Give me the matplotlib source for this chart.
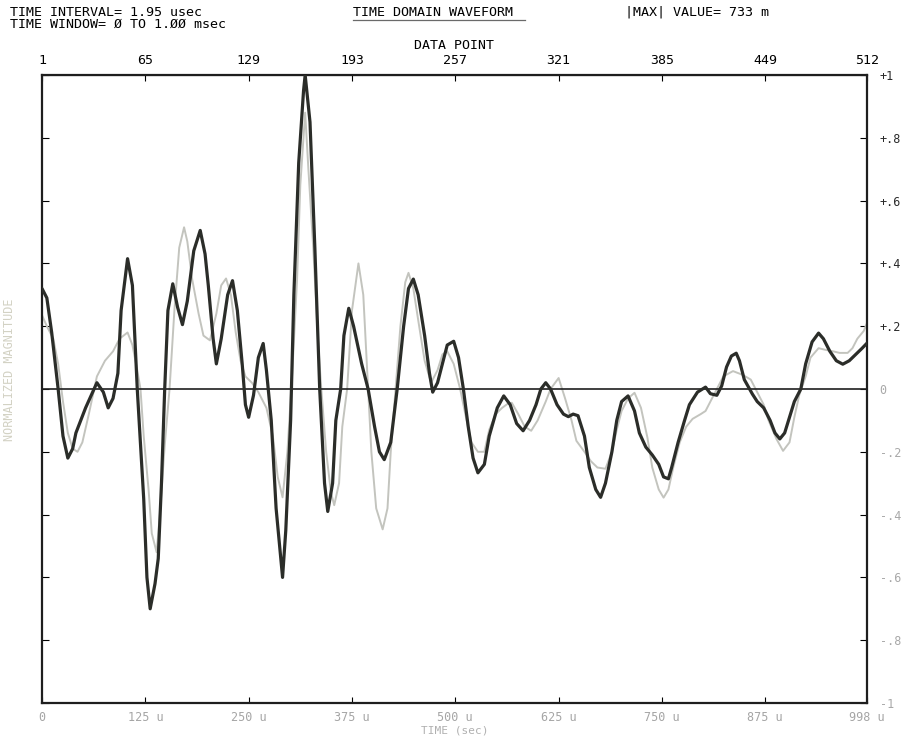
import matplotlib.pyplot as plt

# waveform: data point index (1..512) and normalized magnitude
black_idx = [1, 4, 7, 11, 14, 17, 20, 22, 28, 35,
             39, 42, 45, 48, 50, 54, 57, 60, 64, 66,
             68, 71, 73, 75, 77, 79, 82, 85, 88, 91,
             95, 99, 102, 104, 107, 109, 112, 116, 119, 122,
             125, 127, 129, 132, 135, 138, 140, 143, 146, 150,
             152, 155, 157, 160, 163, 164, 167, 170, 173, 176,
             178, 181, 183, 186, 188, 191, 194, 199, 203, 207,
             210, 213, 217, 221, 225, 228, 231, 234, 238, 241,
             243, 246, 249, 252, 256, 259, 262, 265, 268, 271,
             275, 278, 283, 287, 291, 295, 299, 303, 307, 310,
             313, 316, 320, 324, 327, 330, 333, 337, 340, 344,
             347, 350, 354, 357, 360, 364, 368, 371, 375, 379,
             383, 386, 389, 391, 395, 399, 402, 407, 412, 415,
             419, 422, 425, 428, 431, 433, 436, 441, 444, 448,
             452, 455, 458, 461, 464, 467, 471, 474, 478, 482,
             485, 489, 493, 497, 501, 505, 509, 512]
black_val = [0.32, 0.29, 0.18, 0.0, -0.15, -0.22, -0.19, -0.14, -0.06, 0.02,
             -0.01, -0.06, -0.03, 0.05, 0.25, 0.415, 0.33, 0.0, -0.35, -0.6,
             -0.70, -0.62, -0.54, -0.3, 0.0, 0.25, 0.335, 0.26, 0.205, 0.28,
             0.44, 0.505, 0.43, 0.33, 0.16, 0.08, 0.16, 0.3, 0.345, 0.25,
             0.08, -0.05, -0.09, -0.02, 0.1, 0.145, 0.06, -0.1, -0.38, -0.6,
             -0.45, -0.1, 0.3, 0.72, 0.95, 1.0, 0.85, 0.45, 0.0, -0.3,
             -0.39, -0.3, -0.1, 0.0, 0.17, 0.257, 0.2, 0.08, 0.0, -0.12,
             -0.2, -0.225, -0.17, 0.0, 0.2, 0.32, 0.35, 0.3, 0.17, 0.05,
             -0.01, 0.02, 0.08, 0.14, 0.152, 0.1, 0.0, -0.12, -0.22, -0.267,
             -0.24, -0.15, -0.06, -0.022, -0.05, -0.11, -0.133, -0.1, -0.05, 0.0,
             0.02, 0.0, -0.05, -0.08, -0.088, -0.08, -0.085, -0.15, -0.25, -0.32,
             -0.345, -0.3, -0.2, -0.1, -0.04, -0.022, -0.07, -0.14, -0.185, -0.21,
             -0.24, -0.28, -0.286, -0.25, -0.17, -0.1, -0.05, -0.01, 0.006, -0.015,
             -0.02, 0.01, 0.07, 0.105, 0.114, 0.09, 0.03, -0.016, -0.04, -0.06,
             -0.1, -0.14, -0.159, -0.14, -0.09, -0.04, 0.0, 0.08, 0.15, 0.178,
             0.16, 0.12, 0.09, 0.079, 0.09, 0.11, 0.13, 0.146]

gray_idx = [1, 4, 8, 11, 14, 17, 20, 23, 26, 30,
            35, 40, 45, 49, 54, 57, 60, 62, 64, 67,
            69, 72, 74, 77, 80, 83, 86, 89, 91, 94,
            98, 101, 105, 109, 112, 115, 118, 121, 124, 127,
            131, 135, 138, 140, 144, 147, 150, 153, 156, 159,
            161, 164, 166, 169, 172, 174, 177, 180, 182, 185,
            187, 190, 193, 197, 200, 203, 205, 208, 212, 215,
            217, 220, 223, 226, 228, 231, 234, 238, 242, 246,
            249, 252, 256, 260, 264, 267, 271, 275, 278, 282,
            286, 290, 292, 296, 300, 304, 308, 313, 316, 321,
            325, 329, 332, 337, 341, 345, 350, 354, 357, 360,
            364, 368, 372, 376, 379, 383, 386, 389, 392, 396,
            400, 404, 409, 412, 416, 420, 423, 429, 435, 440,
            444, 448, 451, 456, 460, 464, 467, 470, 474, 477,
            482, 486, 491, 495, 500, 503, 506, 510, 512]
gray_val = [0.235, 0.20, 0.16, 0.08, -0.04, -0.14, -0.19, -0.20, -0.17, -0.08,
            0.04, 0.09, 0.12, 0.16, 0.18, 0.14, 0.06, 0.0, -0.15, -0.32,
            -0.46, -0.52, -0.40, -0.18, 0.0, 0.25, 0.45, 0.515, 0.47, 0.35,
            0.24, 0.17, 0.155, 0.24, 0.33, 0.352, 0.30, 0.18, 0.09, 0.04,
            0.02, -0.01, -0.04, -0.06, -0.15, -0.28, -0.345, -0.20, 0.05, 0.35,
            0.65, 0.88, 0.70, 0.45, 0.15, 0.0, -0.20, -0.33, -0.37, -0.30,
            -0.12, 0.0, 0.25, 0.40, 0.30, 0.0, -0.20, -0.38, -0.447, -0.38,
            -0.20, 0.0, 0.20, 0.34, 0.37, 0.32, 0.22, 0.09, 0.02, 0.06,
            0.11, 0.12, 0.08, 0.0, -0.10, -0.17, -0.20, -0.20, -0.13, -0.08,
            -0.06, -0.045, -0.044, -0.08, -0.12, -0.133, -0.10, -0.04, 0.0, 0.035,
            -0.03, -0.10, -0.165, -0.20, -0.23, -0.25, -0.254, -0.20, -0.13, -0.07,
            -0.03, -0.012, -0.06, -0.155, -0.25, -0.32, -0.346, -0.32, -0.25, -0.17,
            -0.12, -0.095, -0.08, -0.07, -0.03, 0.01, 0.04, 0.057, 0.045, 0.03,
            -0.01, -0.05, -0.10, -0.16, -0.197, -0.17, -0.09, -0.02, 0.04, 0.10,
            0.13, 0.125, 0.12, 0.115, 0.115, 0.13, 0.16, 0.185, 0.21]

dt_usec = 1.953125  # time interval per data point
tick_points = [1, 65, 129, 193, 257, 321, 385, 449, 512]
mag_ticks = [1, 0.8, 0.6, 0.4, 0.2, 0, -0.2, -0.4, -0.6, -0.8, -1]
mag_labels = ["+1", "+.8", "+.6", "+.4", "+.2", "0", "-.2", "-.4", "-.6", "-.8", "-1"]

mono = "DejaVu Sans Mono"
W, H = 911, 740

fig = plt.figure(figsize=(W / 100, H / 100), dpi=100)
ax = fig.add_axes([42 / W, 1 - 703 / H, 825 / W, 628 / H])

# the two traces and the zero line
ax.plot(gray_idx, gray_val, color="#c3c4be", lw=1.4, zorder=2, solid_joinstyle="round")
ax.axhline(0, color="#1f1f1f", lw=1.2, zorder=2.5)
ax.plot(black_idx, black_val, color="#2b2d29", lw=2.3, zorder=3,
        solid_joinstyle="round", solid_capstyle="round")

ax.set_xlim(1, 512)
ax.set_ylim(-1, 1)

# bottom axis: time
time_labels = ["0"] + [f"{round((p - 1) * dt_usec)} u" for p in tick_points[1:]]
ax.set_xticks(tick_points)
ax.set_xticklabels(time_labels, family=mono)
ax.tick_params(axis="x", direction="in", length=4, labelsize=8.5,
               labelcolor="#a5a5a5", pad=6)
ax.set_xlabel("TIME (sec)", family=mono, fontsize=8, color="#b0b0b0", labelpad=1)

# top axis: data point
top = ax.secondary_xaxis("top")
top.set_xticks(tick_points)
top.set_xticklabels([str(p) for p in tick_points], family=mono)
top.tick_params(direction="in", length=4, labelsize=9.5, pad=6)
top.set_xlabel("DATA POINT", family=mono, fontsize=9.5, labelpad=3)

# right axis: normalized magnitude
ax.yaxis.tick_right()
ax.set_yticks(mag_ticks)
ax.set_yticklabels(mag_labels, family=mono)
ax.tick_params(axis="y", direction="in", length=5, left=True, right=True,
               labelsize=8.5, pad=9)
for lab, v in zip(ax.get_yticklabels(), mag_ticks):
    lab.set_color("#2a2a2a" if v > 0 else "#a8a8a8")

for s in ax.spines.values():
    s.set_linewidth(1.6)
    s.set_color("#1e1e1e")

fig.text(10 / W, 1 - 370 / H, "NORMALIZED MAGNITUDE", rotation=90, family=mono,
         fontsize=8.5, color="#d3d2c4", ha="center", va="center")

# header lines
fig.text(10 / W, 1 - 12 / H, "TIME INTERVAL= 1.95 usec", family=mono, fontsize=9.6, va="center")
fig.text(10 / W, 1 - 24 / H, "TIME WINDOW= Ø TO 1.ØØ msec", family=mono, fontsize=9.6, va="center")
fig.text(353 / W, 1 - 12 / H, "TIME DOMAIN WAVEFORM", family=mono, fontsize=9.6, va="center")
fig.add_artist(plt.Line2D([353 / W, 525 / W], [1 - 20 / H, 1 - 20 / H], color="#6a6a6a", lw=0.9))
fig.text(625 / W, 1 - 12 / H, "|MAX| VALUE= 733 m", family=mono, fontsize=9.6, va="center")

fig.savefig("out.png", dpi=100, facecolor="white")
